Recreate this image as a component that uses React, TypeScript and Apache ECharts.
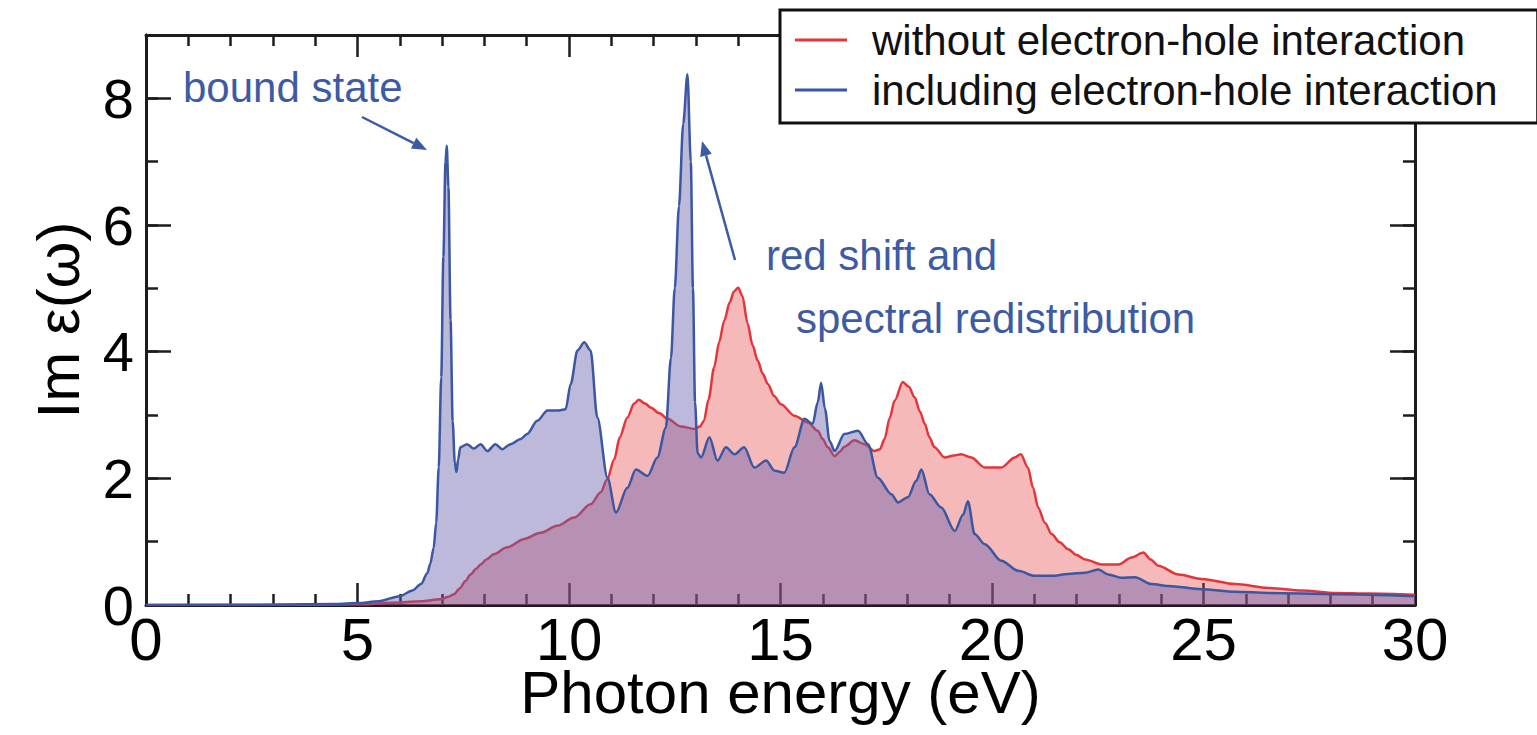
import React, { useEffect, useRef } from "react";
import * as echarts from "echarts";

// ---- data ----
const redX = [0, 2, 4, 5, 6, 6.5, 6.96, 7.15, 7.28, 7.43, 7.55, 7.67, 7.8, 7.91, 8.05, 8.22, 8.54, 8.93, 9.33, 9.72, 10.12, 10.51, 10.75, 10.9, 11.07, 11.2, 11.38, 11.54, 11.65, 11.8, 11.93, 12.13, 12.33, 12.64, 12.96, 13.1, 13.19, 13.3, 13.43, 13.55, 13.67, 13.8, 13.9, 14.0, 14.1, 14.22, 14.34, 14.46, 14.58, 14.7, 14.85, 15.01, 15.33, 15.65, 15.88, 16.0, 16.12, 16.28, 16.4, 16.51, 16.75, 16.99, 17.22, 17.35, 17.46, 17.58, 17.7, 17.89, 18.03, 18.17, 18.3, 18.41, 18.52, 18.64, 18.88, 19.1, 19.27, 19.51, 19.83, 20.22, 20.54, 20.68, 20.85, 20.97, 21.09, 21.25, 21.41, 21.6, 21.8, 22.0, 22.2, 22.59, 22.99, 23.3, 23.58, 23.75, 23.93, 24.41, 24.96, 25.75, 26.54, 27.33, 28.12, 28.91, 30];
const redY = [0, 0, 0.005, 0.01, 0.04, 0.06, 0.09, 0.13, 0.17, 0.27, 0.38, 0.48, 0.57, 0.64, 0.72, 0.8, 0.91, 1.04, 1.14, 1.25, 1.38, 1.59, 1.78, 1.98, 2.3, 2.65, 2.96, 3.18, 3.24, 3.18, 3.12, 3.03, 2.94, 2.82, 2.78, 2.82, 2.91, 3.25, 3.75, 4.15, 4.49, 4.78, 4.95, 5.01, 4.88, 4.45, 4.1, 3.86, 3.65, 3.49, 3.3, 3.17, 2.99, 2.88, 2.75, 2.62, 2.49, 2.35, 2.42, 2.5, 2.6, 2.54, 2.43, 2.46, 2.62, 2.95, 3.23, 3.52, 3.45, 3.28, 3.05, 2.86, 2.65, 2.49, 2.33, 2.36, 2.38, 2.33, 2.17, 2.17, 2.33, 2.38, 2.17, 1.85, 1.54, 1.3, 1.12, 0.99, 0.88, 0.79, 0.72, 0.64, 0.64, 0.75, 0.83, 0.72, 0.62, 0.48, 0.41, 0.33, 0.27, 0.23, 0.19, 0.18, 0.16];

const blueX = [0, 3, 4.5, 5, 5.5, 6, 6.3, 6.5, 6.65, 6.72, 6.8, 6.86, 6.92, 6.98, 7.03, 7.08, 7.11, 7.15, 7.2, 7.25, 7.3, 7.34, 7.38, 7.43, 7.59, 7.75, 7.91, 8.07, 8.26, 8.42, 8.62, 8.86, 9.01, 9.25, 9.49, 9.72, 9.92, 10.04, 10.2, 10.36, 10.51, 10.67, 10.91, 11.11, 11.38, 11.58, 11.86, 12.09, 12.29, 12.41, 12.5, 12.6, 12.7, 12.8, 12.88, 12.93, 12.98, 13.04, 13.12, 13.32, 13.51, 13.71, 13.91, 14.14, 14.38, 14.66, 14.86, 15.09, 15.33, 15.57, 15.76, 15.88, 15.96, 16.05, 16.16, 16.28, 16.51, 16.83, 17.07, 17.3, 17.62, 17.78, 18.01, 18.21, 18.33, 18.52, 18.8, 19.12, 19.32, 19.43, 19.59, 19.83, 20.22, 20.62, 21.01, 21.41, 21.8, 22.2, 22.51, 22.75, 23.06, 23.38, 23.77, 24.17, 24.96, 25.75, 26.54, 28.12, 30];
const blueY = [0, 0.005, 0.015, 0.03, 0.06, 0.14, 0.23, 0.33, 0.5, 0.65, 0.9, 1.3, 2.17, 3.6, 5.5, 7.0, 7.25, 6.6, 4.5, 2.9, 2.25, 2.1, 2.3, 2.49, 2.54, 2.47, 2.54, 2.43, 2.54, 2.46, 2.54, 2.62, 2.7, 2.91, 3.07, 3.07, 3.09, 3.49, 4.02, 4.15, 4.02, 2.96, 2.01, 1.46, 1.85, 2.14, 2.04, 2.33, 2.8, 3.9, 5.0, 6.3, 7.6, 8.38, 7.0, 5.0, 3.2, 2.4, 2.33, 2.65, 2.28, 2.49, 2.38, 2.49, 2.17, 2.28, 2.12, 2.09, 2.49, 2.94, 2.86, 3.2, 3.51, 3.1, 2.59, 2.43, 2.7, 2.75, 2.54, 2.01, 1.75, 1.62, 1.7, 1.96, 2.14, 1.75, 1.54, 1.17, 1.43, 1.64, 1.12, 0.96, 0.7, 0.54, 0.46, 0.46, 0.49, 0.51, 0.56, 0.48, 0.43, 0.44, 0.33, 0.3, 0.25, 0.21, 0.19, 0.17, 0.14];

const seriesNames = ["without electron-hole interaction", "including electron-hole interaction"];
const xTicks = { min: 0, max: 30, interval: 5 };
const yTicks = { min: 0, max: 9, interval: 2 };
const xAxisTitle = "Photon energy (eV)";
const yAxisTitle = "Im ε(ω)";
const annotations = ["bound state", "red shift and", "spectral redistribution"];

const FONT = "'Liberation Sans', Arial, Helvetica, sans-serif";
const RED = "#e3363c";
const BLUE = "#3b57a1";
const ANN = "#3d5ba4";
const AX = "#1c1c1c";

function zip(xs: number[], ys: number[]) {
  return xs.map((x, i) => [x, ys[i]]);
}

export default function App() {
  const ref = useRef<HTMLDivElement>(null);
  useEffect(() => {
    if (!ref.current) return;
    const chart = echarts.init(ref.current, undefined, { renderer: "svg" });

    const axisLine = { show: true, onZero: false, lineStyle: { color: AX, width: 3 } };
    const majorX = (pos: "bottom" | "top", labels: boolean) => ({
      type: "value",
      position: pos,
      min: xTicks.min,
      max: xTicks.max,
      interval: xTicks.interval,
      axisLine,
      axisTick: { show: true, inside: true, length: 22, lineStyle: { color: AX, width: 2.5 } },
      minorTick: { show: true, splitNumber: 5, length: 11, lineStyle: { color: AX, width: 2.5 } },
      splitLine: { show: false },
      minorSplitLine: { show: false },
      axisLabel: labels
        ? { show: true, fontSize: 60, color: "#000", fontFamily: FONT, margin: 4 }
        : { show: false },
      ...(labels
        ? {
            name: xAxisTitle,
            nameLocation: "middle",
            nameGap: 65,
            nameMoveOverlap: false,
            nameTextStyle: { fontSize: 60, color: "#000", fontFamily: FONT, verticalAlign: "top", lineHeight: 44 },
          }
        : {}),
    });
    const majorY = (pos: "left" | "right", labels: boolean) => ({
      type: "value",
      position: pos,
      min: yTicks.min,
      max: yTicks.max,
      interval: yTicks.interval,
      axisLine,
      axisTick: { show: true, inside: true, length: 25, lineStyle: { color: AX, width: 2.5 } },
      splitLine: { show: false },
      axisLabel: labels
        ? {
            show: true,
            fontSize: 56,
            color: "#000",
            fontFamily: FONT,
            margin: 12,
            formatter: (v: number) => (v > 8 ? "" : String(v)),
          }
        : { show: false },
      ...(labels
        ? {
            name: yAxisTitle,
            nameLocation: "middle",
            nameGap: 58,
            nameMoveOverlap: false,
            nameTextStyle: { fontSize: 60, color: "#000", fontFamily: FONT },
          }
        : {}),
    });
    const minorY = (pos: "left" | "right") => ({
      type: "value",
      position: pos,
      min: yTicks.min,
      max: yTicks.max,
      interval: 1,
      axisLine,
      axisTick: { show: true, inside: true, length: 12, lineStyle: { color: AX, width: 2.5 } },
      splitLine: { show: false },
      axisLabel: { show: false },
    });

    const arrow = (x1: number, y1: number, x2: number, y2: number) => {
      const dx = x2 - x1;
      const dy = y2 - y1;
      const len = Math.sqrt(dx * dx + dy * dy);
      const ux = dx / len;
      const uy = dy / len;
      const hl = 15;
      const hw = 6;
      const bx = x2 - ux * hl;
      const by = y2 - uy * hl;
      return [
        {
          type: "line",
          shape: { x1, y1, x2: bx, y2: by },
          style: { stroke: ANN, lineWidth: 2.5 },
          z: 10,
        },
        {
          type: "polygon",
          shape: {
            points: [
              [x2, y2],
              [bx - uy * hw, by + ux * hw],
              [bx + uy * hw, by - ux * hw],
            ],
          },
          style: { fill: ANN },
          z: 10,
        },
      ];
    };

    const annText = (text: string, x: number, y: number) => ({
      type: "text",
      x,
      y,
      z: 10,
      style: {
        text,
        fill: ANN,
        font: `42px ${FONT}`,
        textAlign: "left",
        textVerticalAlign: "middle",
      },
    });

    chart.setOption({
      animation: false,
      backgroundColor: "#fff",
      grid: { left: 146, right: 122, top: 35, bottom: 130, containLabel: false },
      xAxis: [majorX("bottom", true), majorX("top", false)],
      yAxis: [majorY("left", true), minorY("left"), majorY("right", false), minorY("right")],
      legend: {
        show: true,
        orient: "vertical",
        left: 780,
        top: 10,
        icon: "rect",
        itemWidth: 52,
        itemHeight: 3,
        itemGap: 8,
        padding: [9, 40, 12, 15],
        backgroundColor: "#fff",
        borderColor: "#111",
        borderWidth: 3,
        borderRadius: 0,
        z: 20,
        data: seriesNames,
        textStyle: {
          fontSize: 42,
          lineHeight: 42,
          color: "#111",
          fontFamily: FONT,
          padding: [0, 0, 0, 20],
        },
      },
      series: [
        {
          name: seriesNames[0],
          type: "line",
          data: zip(redX, redY),
          xAxisIndex: 0,
          yAxisIndex: 0,
          showSymbol: false,
          smooth: 0.3,
          smoothMonotone: "x",
          color: RED,
          lineStyle: { color: RED, width: 2.5 },
          areaStyle: { color: "rgba(228,60,64,0.36)", opacity: 1 },
          z: 2,
        },
        {
          name: seriesNames[1],
          type: "line",
          data: zip(blueX, blueY),
          xAxisIndex: 0,
          yAxisIndex: 0,
          showSymbol: false,
          smooth: 0.3,
          smoothMonotone: "x",
          color: BLUE,
          lineStyle: { color: BLUE, width: 2.5 },
          areaStyle: { color: "rgba(100,92,170,0.43)", opacity: 1 },
          z: 3,
        },
      ],
      graphic: [
        annText(annotations[0], 183, 87),
        annText(annotations[1], 766, 255),
        annText(annotations[2], 796, 318),
        ...arrow(362, 117, 427, 150),
        ...arrow(735, 260, 702, 141),
      ],
    });

    return () => chart.dispose();
  }, []);

  return <div ref={ref} style={{ width: 1537, height: 735, position: "absolute", left: 0, top: 0 }} />;
}
